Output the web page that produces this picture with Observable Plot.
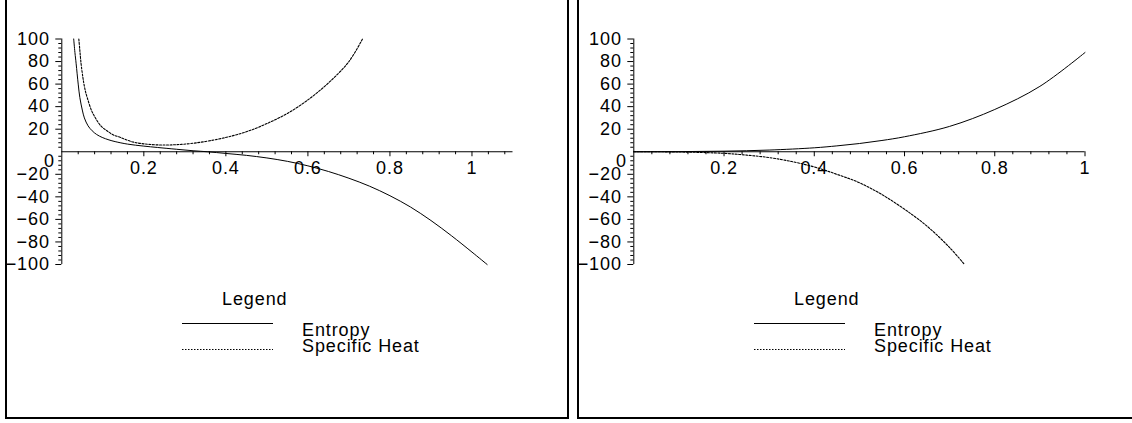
<!DOCTYPE html>
<html><head><meta charset="utf-8">
<script src="https://cdn.jsdelivr.net/npm/d3@7"></script>
<script src="https://cdn.jsdelivr.net/npm/@observablehq/plot@0.6"></script>
<style>
html,body{margin:0;padding:0;background:#fff;}
#root{position:relative;width:1132px;height:423px;overflow:hidden;font-family:"Liberation Sans",Arial,Helvetica,sans-serif;}
#root svg text{letter-spacing:0.9px;}
.frame{position:absolute;top:-10px;height:429px;border:2px solid #000;box-sizing:border-box;}
.panel{position:absolute;top:0;}
.legend{position:absolute;top:0;}
</style></head><body><div id="root"></div>
<script>
// ---- data ----
const leftEntropyX = [0.029,0.032,0.035,0.04,0.044,0.05,0.055,0.064,0.074,0.085,0.0985,0.115,0.13,0.16,0.2,0.233,0.28,0.32,0.355,0.4,0.45,0.5,0.55,0.6,0.65,0.7,0.75,0.8,0.85,0.9,0.95,1.0,1.037];
const leftEntropyY = [100,88,78,60,48,37,30,23,18.6,15.3,12.7,10.5,9,6.8,5,3.8,2.2,0.9,0,-1.5,-3.2,-5.5,-8.5,-12.5,-17.5,-23.5,-30.5,-39,-49,-61,-74.5,-89,-100];
const leftHeatX = [0.0415,0.044,0.047,0.051,0.054,0.058,0.062,0.072,0.082,0.095,0.11,0.125,0.143,0.17,0.2,0.24,0.28,0.322,0.379,0.42,0.46,0.5,0.55,0.6,0.65,0.7,0.733];
const leftHeatY = [100,90,78,67,60,53,48,37,30,23,18.6,15,12.7,9,7,6,6.3,7.6,11,14.5,19,25,34,46,61,80,100];
const rightEntropyX = [0,0.1,0.2,0.3,0.4,0.45,0.5,0.55,0.6,0.7,0.8,0.9,1.0];
const rightEntropyY = [0,0.1,0.5,1.5,3.5,5.2,7.3,10,13.3,22.5,37.5,58,88];
const rightHeatX = [0,0.1,0.2,0.25,0.3,0.35,0.4,0.45,0.5,0.55,0.6,0.65,0.7,0.733];
const rightHeatY = [0,-0.2,-1.4,-3,-5.2,-8.7,-13.5,-20,-27.5,-38,-51,-66,-85,-100];
const xTickLabels = [0.2,0.4,0.6,0.8,1];
const yTickLabels = [100,80,60,40,20,-20,-40,-60,-80,-100];
const legendTitle = "Legend";
const seriesNames = ["Entropy","Specific Heat"];

const FONT = '"Liberation Sans",Arial,Helvetica,sans-serif';
const FS = 18;
const fmt = d => d < 0 ? "\u2212" + (-d) : String(d);
const zip = (xs, ys) => xs.map((x, i) => ({x, y: ys[i]}));

function panel(xMax, entropy, heat) {
  const xMinor = d3.range(0.04, xMax + 1e-9, 0.04).map(v => +v.toFixed(2)).filter(v => Math.abs(v / 0.2 - Math.round(v / 0.2)) > 1e-6);
  const yMinor = d3.range(-96, 100, 4).filter(v => v % 20 !== 0);
  const yMajor = d3.range(-100, 101, 20).filter(v => v !== 0);
  return Plot.plot({
    width: 566, height: 300,
    marginLeft: 61.3, marginRight: 566 - 61.3 - 451.2, marginTop: 38.5, marginBottom: 36,
    x: {domain: [0, xMax], axis: null},
    y: {domain: [-100, 100], axis: null},
    style: {background: "transparent", overflow: "visible", fontFamily: FONT},
    marks: [
      Plot.ruleY([0], {stroke: "#000", strokeWidth: 1}),
      Plot.ruleX([0], {stroke: "#000", strokeWidth: 1}),
      Plot.ruleX(xTickLabels.filter(v => v <= xMax), {x: d => d, y1: 0, y2: 0, insetBottom: -5, stroke: "#000"}),
      Plot.ruleX(xMinor, {x: d => d, y1: 0, y2: 0, insetBottom: -3, stroke: "#000"}),
      Plot.ruleY(yMajor, {y: d => d, x1: 0, x2: 0, insetLeft: -6, stroke: "#000"}),
      Plot.ruleY(yMinor, {y: d => d, x1: 0, x2: 0, insetLeft: -3, stroke: "#000"}),
      Plot.text(xTickLabels.filter(v => v <= xMax), {x: d => d, y: 0, text: d => String(d), dy: 16.5, fontSize: FS, fill: "#000"}),
      Plot.text(yTickLabels, {x: 0, y: d => d, text: fmt, textAnchor: "end", dx: -12, fontSize: FS, fill: "#000"}),
      Plot.text([0], {x: 0, y: 0, text: () => "0", textAnchor: "end", dx: -7, dy: 9, fontSize: FS, fill: "#000"}),
      Plot.line(entropy, {x: "x", y: "y", curve: "catmull-rom", stroke: "#000", strokeWidth: 1}),
      Plot.line(heat, {x: "x", y: "y", curve: "catmull-rom", stroke: "#000", strokeWidth: 1.1, strokeDasharray: "2,1.5"})
    ]
  });
}

function legend() {
  const ns = "http://www.w3.org/2000/svg";
  const svg = document.createElementNS(ns, "svg");
  svg.setAttribute("width", 566); svg.setAttribute("height", 423);
  svg.setAttribute("class", "legend");
  const add = (tag, attrs, txt) => { const e = document.createElementNS(ns, tag); for (const k in attrs) e.setAttribute(k, attrs[k]); if (txt) e.textContent = txt; svg.appendChild(e); return e; };
  add("text", {x: 222, y: 305, "font-size": FS, "font-family": FONT, fill: "#000"}, legendTitle);
  add("line", {x1: 182, x2: 273, y1: 323.5, y2: 323.5, stroke: "#000", "stroke-width": 1});
  add("line", {x1: 182, x2: 273, y1: 349.5, y2: 349.5, stroke: "#000", "stroke-width": 1, "stroke-dasharray": "1.5,1.5"});
  add("text", {x: 302, y: 336, "font-size": FS, "font-family": FONT, fill: "#000"}, seriesNames[0]);
  add("text", {x: 302, y: 352, "font-size": FS, "font-family": FONT, fill: "#000"}, seriesNames[1]);
  return svg;
}

const root = document.getElementById("root");
const f1 = document.createElement("div"); f1.className = "frame"; f1.style.left = "5px"; f1.style.width = "564px"; root.appendChild(f1);
const f2 = document.createElement("div"); f2.className = "frame"; f2.style.left = "577px"; f2.style.width = "600px"; root.appendChild(f2);

const p1 = panel(1.1, zip(leftEntropyX, leftEntropyY), zip(leftHeatX, leftHeatY));
p1.classList.add("panel"); p1.style.left = "0px"; root.appendChild(p1);
const p2 = panel(1.0, zip(rightEntropyX, rightEntropyY), zip(rightHeatX, rightHeatY));
p2.classList.add("panel"); p2.style.left = "572px"; root.appendChild(p2);
const l1 = legend(); l1.style.left = "0px"; root.appendChild(l1);
const l2 = legend(); l2.style.left = "572px"; root.appendChild(l2);
</script></body></html>
